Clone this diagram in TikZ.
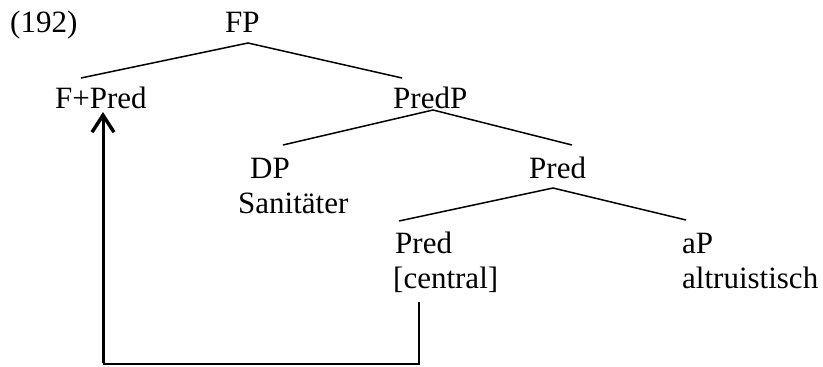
\documentclass[tikz,border=0pt]{standalone}
\usepackage{fontspec}
\setmainfont{Liberation Serif}
\usetikzlibrary{arrows.meta}
\begin{document}
\begin{tikzpicture}[x=1pt,y=-1pt,
  lbl/.style={anchor=base west,inner sep=0pt,font=\fontsize{31}{37}\selectfont},
  branch/.style={line width=1.5pt},
  movearrow/.style={line width=3pt,-{Straight Barb[length=17pt,width=22pt,line width=3.5pt]}}]
\useasboundingbox (0,0) rectangle (823,367);
% labels
\node[lbl] (ex) at (10,32) {(192)};
\node[lbl] (FP) at (225,32) {FP};
\node[lbl] (FPred) at (55,108) {F+Pred};
\node[lbl] (PredP) at (393,108) {PredP};
\node[lbl] (DP) at (250,178) {DP};
\node[lbl] (San) at (238,213) {Sanitäter};
\node[lbl] (Pred1) at (529,178) {Pred};
\node[lbl] (Pred2) at (395,253) {Pred};
\node[lbl] (central) at (393,288) {[central]};
\node[lbl] (aP) at (682,253) {aP};
\node[lbl] (altr) at (682,288) {altruistisch};
% attachment points
\coordinate (FPb) at (248,43);
\coordinate (FPredt) at (81,78);
\coordinate (PredPt) at (402,78);
\coordinate (PredPb) at (433,110);
\coordinate (DPt) at (283,145);
\coordinate (Pred1t) at (572,145);
\coordinate (Pred1b) at (553,188);
\coordinate (Pred2t) at (399,221);
\coordinate (aPt) at (686,220);
\coordinate (centralb) at (419,302);
\coordinate (cornerR) at (419,364);
\coordinate (cornerL) at (103,364);
\coordinate (FPredb) at (103,112);
% branches
\draw[branch] (FPredt) -- (FPb) -- (PredPt);
\draw[branch] (DPt) -- (PredPb) -- (Pred1t);
\draw[branch] (Pred2t) -- (Pred1b) -- (aPt);
% movement
\draw[branch] (centralb) -- (cornerR) -- (cornerL);
\draw[movearrow] ([yshift=0.75pt]cornerL) -- (FPredb);
\end{tikzpicture}
\end{document}
